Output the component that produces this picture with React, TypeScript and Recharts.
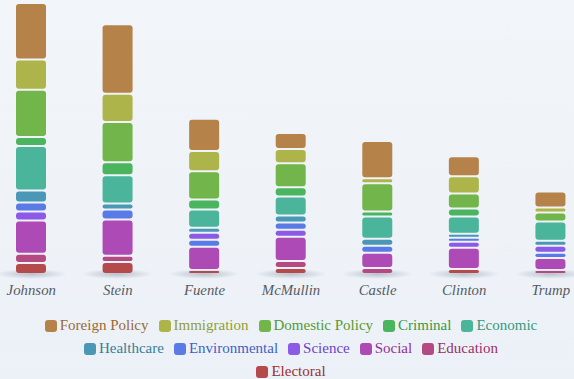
import React from 'react';
import { BarChart, Bar, XAxis, YAxis, Legend } from 'recharts';

// ---- data ----
const categories = ['Johnson', 'Stein', 'Fuente', 'McMullin', 'Castle', 'Clinton', 'Trump'];
const foreignPolicy = [56, 69, 32, 16, 37, 20, 16];
const immigration = [30, 28, 20, 14, 5, 17, 5];
const domesticPolicy = [47, 40, 28, 24, 28, 15, 9];
const criminal = [9, 13, 10, 9, 5, 8, 0];
const economic = [44, 28, 18, 19, 22, 17, 19];
const healthcare = [12, 6, 5, 7, 7, 4, 5];
const environmental = [9, 10, 7, 7, 7, 4, 5];
const science = [9, 0, 7, 7, 0, 6, 7];
const social = [33, 36, 23, 24, 15, 21, 12];
const education = [9, 6, 0, 7, 6, 0, 4];
const electoral = [11, 12, 4, 6, 0, 5, 0];
// in these bars the Science block sits above the Environmental block
const scienceAboveEnvironmental = [false, false, true, false, false, false, true];

const FONT = '"Liberation Serif", "Times New Roman", serif';

type S = { key: string; label: string; color: string; text: string };
const SERIES: Record<string, S> = {
  foreign: { key: 'foreign', label: 'Foreign Policy', color: '#b5834a', text: '#9a6a33' },
  immigration: { key: 'immigration', label: 'Immigration', color: '#adb54a', text: '#949c35' },
  domestic: { key: 'domestic', label: 'Domestic Policy', color: '#72b54a', text: '#569a33' },
  criminal: { key: 'criminal', label: 'Criminal', color: '#4ab55e', text: '#339a47' },
  economic: { key: 'economic', label: 'Economic', color: '#4ab59b', text: '#339a80' },
  healthcare: { key: 'healthcare', label: 'Healthcare', color: '#4a98b5', text: '#33809a' },
  environmental: { key: 'environmental', label: 'Environmental', color: '#5a7be6', text: '#3f5fc8' },
  science: { key: 'science', label: 'Science', color: '#8b5ae6', text: '#6d3fc8' },
  social: { key: 'social', label: 'Social', color: '#ad4ab5', text: '#922f9a' },
  education: { key: 'education', label: 'Education', color: '#b54a83', text: '#9a2f68' },
  electoral: { key: 'electoral', label: 'Electoral', color: '#b54a4a', text: '#9a2f2f' },
};

const data = categories.map((name, i) => ({
  name,
  foreign: foreignPolicy[i],
  immigration: immigration[i],
  domestic: domesticPolicy[i],
  criminal: criminal[i],
  economic: economic[i],
  healthcare: healthcare[i],
  environmental: environmental[i],
  science: scienceAboveEnvironmental[i] ? 0 : science[i],
  scienceHigh: scienceAboveEnvironmental[i] ? science[i] : 0,
  social: social[i],
  education: education[i],
  electoral: electoral[i],
}));

const maxTotal = Math.max(
  ...categories.map((_, i) =>
    foreignPolicy[i] + immigration[i] + domesticPolicy[i] + criminal[i] + economic[i] + healthcare[i] +
    environmental[i] + science[i] + social[i] + education[i] + electoral[i])
);

const stackOrder: { dataKey: string; s: S }[] = [
  { dataKey: 'electoral', s: SERIES.electoral },
  { dataKey: 'education', s: SERIES.education },
  { dataKey: 'social', s: SERIES.social },
  { dataKey: 'science', s: SERIES.science },
  { dataKey: 'environmental', s: SERIES.environmental },
  { dataKey: 'scienceHigh', s: SERIES.science },
  { dataKey: 'healthcare', s: SERIES.healthcare },
  { dataKey: 'economic', s: SERIES.economic },
  { dataKey: 'criminal', s: SERIES.criminal },
  { dataKey: 'domestic', s: SERIES.domestic },
  { dataKey: 'immigration', s: SERIES.immigration },
  { dataKey: 'foreign', s: SERIES.foreign },
];

const legendRows: S[][] = [
  [SERIES.foreign, SERIES.immigration, SERIES.domestic, SERIES.criminal, SERIES.economic],
  [SERIES.healthcare, SERIES.environmental, SERIES.science, SERIES.social, SERIES.education],
  [SERIES.electoral],
];

const Segment = (props: any) => {
  const { x, y, width, height, fill } = props;
  if (!height || height <= 2) return null;
  const h = height - 2;
  const r = Math.min(3, h / 2);
  return <rect x={x} y={y + 1} width={width} height={h} rx={r} ry={r} fill={fill} />;
};

const Shadow = (props: any) => {
  const { x, y, width, height, index } = props;
  const cx = x + width / 2;
  const cy = y + height;
  const id = `shadow-grad-${index}`;
  return (
    <g>
      <defs>
        <radialGradient id={id} cx="50%" cy="50%" r="50%">
          <stop offset="0%" stopColor="#95a0af" stopOpacity={0.6} />
          <stop offset="100%" stopColor="#95a0af" stopOpacity={0} />
        </radialGradient>
      </defs>
      <ellipse cx={cx} cy={cy} rx={36} ry={5} fill={`url(#${id})`} />
    </g>
  );
};

const Tick = (props: any) => {
  const { x, y, payload } = props;
  return (
    <text x={x} y={y} dy={13} textAnchor="middle" fill="#555b64" fontStyle="italic"
      fontFamily={FONT} fontSize={14.8}>
      {payload.value}
    </text>
  );
};

const LegendContent = () => (
  <div style={{ height: 66, paddingTop: 4, boxSizing: 'border-box', fontFamily: FONT, fontSize: 15 }}>
    {legendRows.map((row, ri) => (
      <div key={ri} style={{ display: 'flex', justifyContent: 'center', height: 23, alignItems: 'center' }}>
        {row.map((s) => (
          <div key={s.key} style={{ display: 'flex', alignItems: 'center', margin: '0 5px' }}>
            <span style={{ width: 12, height: 12, borderRadius: 3, background: s.color, marginRight: 3, display: 'inline-block' }} />
            <span style={{ color: s.text, lineHeight: '23px', fontFamily: FONT }}>{s.label}</span>
          </div>
        ))}
      </div>
    ))}
  </div>
);

export default function App() {
  return (
    <div style={{ position: 'absolute', left: 0, top: 0, width: 574, height: 379, overflow: 'hidden',
      background: 'linear-gradient(180deg, #f2f5f9 0%, #ecf1f7 100%)' }}>
      <div style={{ position: 'absolute', left: -18, top: 0 }}>
        <BarChart width={620} height={379} data={data} margin={{ top: 3, right: 8, left: 6, bottom: 3 }}>
          <XAxis dataKey="name" tickLine={false} axisLine={false} height={36} tick={<Tick />} interval={0} />
          <YAxis hide domain={[0, maxTotal]} />
          <XAxis xAxisId="shadow" dataKey="name" hide />
          <YAxis yAxisId="shadow" hide domain={[0, 1]} />
          <Bar xAxisId="shadow" yAxisId="shadow" dataKey={() => 0.001} barSize={30} shape={<Shadow />}
            isAnimationActive={false} legendType="none" />
          {stackOrder.map(({ dataKey, s }) => (
            <Bar key={dataKey} dataKey={dataKey} stackId="a" fill={s.color} barSize={30}
              shape={<Segment />} isAnimationActive={false} />
          ))}
          <Legend verticalAlign="bottom" content={<LegendContent />} />
        </BarChart>
      </div>
    </div>
  );
}
